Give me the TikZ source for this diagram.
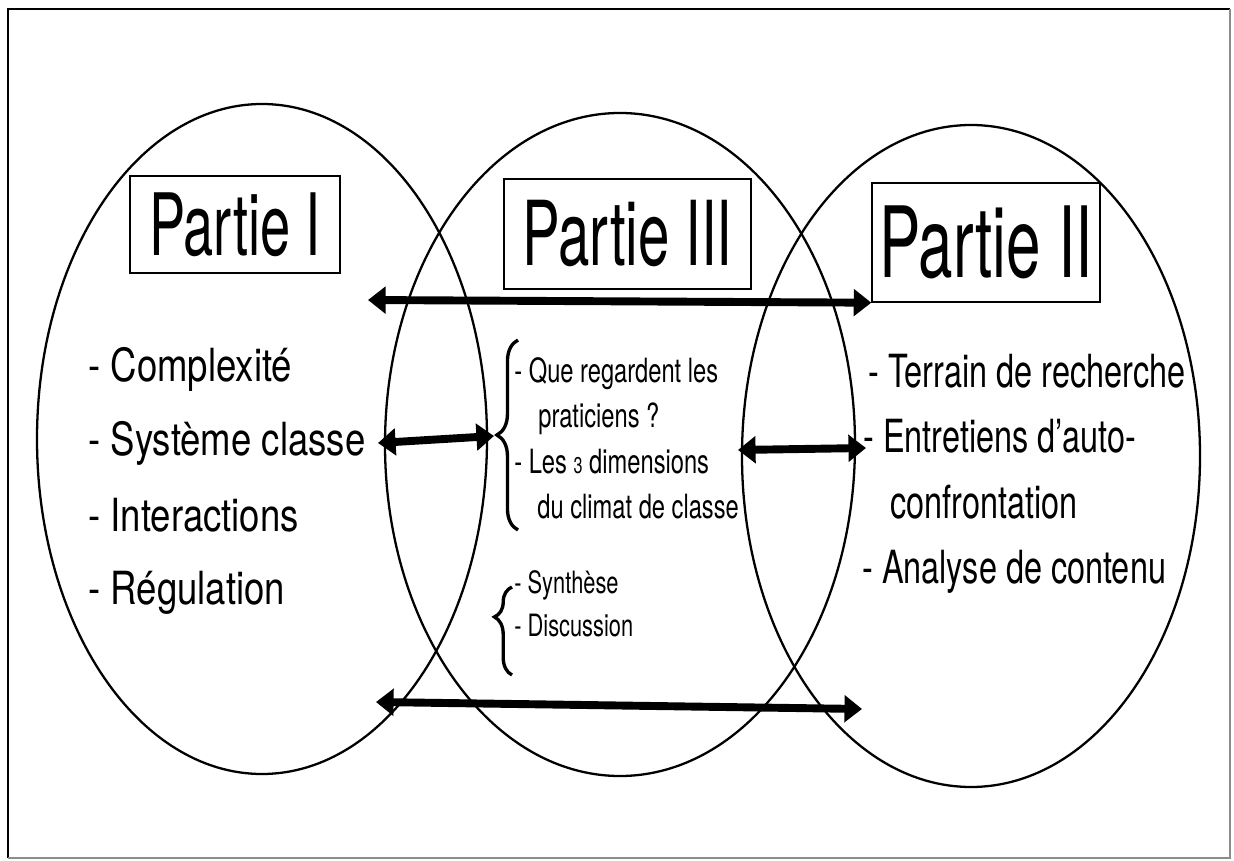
\documentclass[tikz,border=0pt]{standalone}
\usepackage{fontspec}
\usepackage{tikz}
\usetikzlibrary{arrows.meta,decorations.pathreplacing,positioning}
\newfontfamily\titlefont[FakeStretch=0.63]{TeX Gyre Heros}
\newfontfamily\leftfont[FakeStretch=0.8]{TeX Gyre Heros}
\newfontfamily\narrowfont[FakeStretch=0.71]{TeX Gyre Heros}
\tikzset{%
	partie/.style   = {draw, rectangle, line width=0.8pt, inner sep=0pt, text centered},
	bulle/.style    = {draw, line width=1.3pt},
	itemG/.style    = {anchor=base west, inner sep=0pt, font=\leftfont\fontsize{26}{30}\selectfont},
	itemD/.style    = {anchor=base west, inner sep=0pt, font=\narrowfont\fontsize{26}{30}\selectfont},
	itemM/.style    = {anchor=base west, inner sep=0pt, font=\narrowfont\fontsize{19}{22}\selectfont},
	itemS/.style    = {anchor=base west, inner sep=0pt, font=\narrowfont\fontsize{17.5}{20}\selectfont},
	lien/.style     = {line width=4.5pt, <->, >={Triangle[length=10pt,width=15pt]}},
	accolade/.style = {line width=1.9pt, decorate, decoration={brace, amplitude=#1}},
	accolade/.default = 12pt,
}
\begin{document}
\begin{tikzpicture}[x=0.02cm, y=-0.02cm]
		\useasboundingbox (0,0) rectangle (1234,861);
		% cadre
		\draw[line width=1.4pt] (8,858) -- (8,9) -- (1230,9);
		\draw[line width=0.8pt, black!45] (1230,9) -- (1230,858) -- (8,858);
		
		\draw[bulle] (262,439) ellipse [x radius=225, y radius=335];
		\draw[bulle] (620,444.5) ellipse [x radius=235, y radius=331.5];
		\draw[bulle] (971,456) ellipse [x radius=229, y radius=331];
		
		\node[partie, minimum width=4.2cm, minimum height=1.94cm, font=\titlefont\fontsize{49}{52}\selectfont] (p1) at (235,224.5) {Partie I};
		\node[partie, minimum width=4.94cm, minimum height=2.2cm, font=\titlefont\fontsize{51}{54}\selectfont] (p3) at (627.5,234) {Partie III};
		\node[partie, minimum width=4.56cm, minimum height=2.38cm, font=\titlefont\fontsize{56}{60}\selectfont] (p2) at (986,242.5) {Partie II};
		
		\node[itemG] (c1) at (88,382) {- Complexité};
		\node[itemG] (c2) at (88,456) {- Système classe};
		\node[itemG] (c3) at (88,531) {- Interactions};
		\node[itemG] (c4) at (88,604) {- Régulation};
		
		\node[itemM] (m1) at (514,383) {- Que regardent les};
		\node[itemM] (m2) at (538,428) {praticiens ?};
		\node[itemM] (m3) at (514,473) {- Les {\fontsize{13}{13}\selectfont 3} dimensions};
		\node[itemM] (m4) at (537,518) {du climat de classe};
		\node[itemS] (s1) at (514,593) {- Synthèse};
		\node[itemS] (s2) at (514,636) {- Discussion};
		
		\node[itemD] (r1) at (868,388) {- Terrain de recherche};
		\node[itemD] (r2) at (863,453) {- Entretiens d’auto-};
		\node[itemD] (r3) at (890,518) {confrontation};
		\node[itemD] (r4) at (862,583) {- Analyse de contenu};
		
		\draw[accolade] (518,530) -- (518,340);
		\draw[accolade=10pt, decoration={aspect=0.66}] (512,675) -- (512,587);
		
		\coordinate (hautG) at (368,300);
		\coordinate (sysD) at (378,443);
		\coordinate (pointe) at (494,436);
		\coordinate (milD) at (738,450);
		\coordinate (entG) at (866,448);
		\coordinate (basG) at (376,702);
		\coordinate (basD) at (862,709);
		\draw[lien] (hautG) -- (p2.south west);
		\draw[lien] (sysD) -- (pointe);
		\draw[lien] (milD) -- (entG);
		\draw[lien] (basG) -- (basD);
\end{tikzpicture}
\end{document}
